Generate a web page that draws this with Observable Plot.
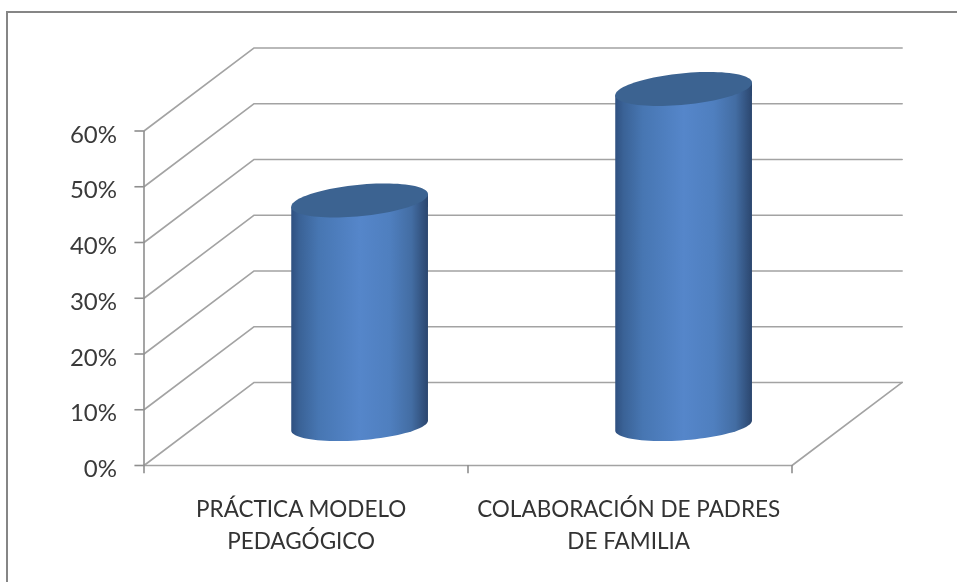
<!DOCTYPE html>
<html>
<head>
<meta charset="utf-8">
<script src="https://cdn.jsdelivr.net/npm/d3@7"></script>
<script src="https://cdn.jsdelivr.net/npm/@observablehq/plot@0.6"></script>
<style>
html,body{margin:0;padding:0;background:#fff;overflow:hidden}
#wrap{position:relative;width:957px;height:582px;filter:blur(0.4px)}
#frame{position:absolute;left:6px;top:11px;right:0;bottom:0;border-left:2px solid #868686;border-top:2px solid #868686}
#chart{position:absolute;left:0;top:0}
svg{display:block}
</style>
</head>
<body>
<div id="wrap"><div id="frame"></div><div id="chart"></div></div>
<script>
const categories = ["PRÁCTICA MODELO\nPEDAGÓGICO", "COLABORACIÓN DE PADRES\nDE FAMILIA"];
const labelPositions = [0.485, 1.496];
const values = [40, 60];
const yTicks = [0, 10, 20, 30, 40, 50, 60];
const xTicks = [0, 1, 2];
const depthX = 0.34;   // depth of the 3D floor, in category widths
const depthY = 14.9;   // depth of the 3D floor, in percentage points
const halfWidth = 0.211;

const gridLines = yTicks.flatMap(v => [
  {s: v, x: 0, y: v},
  {s: v, x: depthX, y: v + depthY},
  {s: v, x: 2 + depthX, y: v + depthY}
]);
const floorEdge = [
  {x: 0, y: 0}, {x: 2, y: 0}, {x: 2 + depthX, y: depthY}
];

function capPath(cx, cy, a, b, k) {
  const pts = d3.range(0, 361, 4).map(t => {
    const r = t * Math.PI / 180;
    return [cx + a * Math.cos(r), cy + b * Math.sin(r) - k * Math.cos(r)];
  });
  return "M" + pts.map(p => p.join(",")).join("L") + "Z";
}
function bodyPath(cx, yTop, yBot, a, b, k) {
  const pts = [[cx - a, yTop + 6.3]];
  d3.range(180, -1, -4).forEach(t => {
    const r = t * Math.PI / 180;
    pts.push([cx + a * Math.cos(r), yBot + b * Math.sin(r) - k * Math.cos(r)]);
  });
  pts.push([cx + a, yTop - 6.3]);
  return "M" + pts.map(p => p.join(",")).join("L") + "Z";
}

function cylinders(index, scales) {
  const {x, y} = scales;
  const g = d3.create("svg:g");
  const grad = g.append("defs").append("linearGradient")
    .attr("id", "cyl").attr("x1", 0).attr("x2", 1).attr("y1", 0).attr("y2", 0);
  [[0, "#2f5080"], [0.06, "#3a6296"], [0.2, "#4776b2"], [0.5, "#5586ca"],
   [0.72, "#4f7fbf"], [0.88, "#436da3"], [1, "#2b466e"]].forEach(([o, c]) =>
    grad.append("stop").attr("offset", o).attr("stop-color", c));
  values.forEach((v, i) => {
    const cx = x(i + 0.5 + depthX / 2 - 0.003);
    const a = x(halfWidth) - x(0);
    const yTop = y(v + depthY / 2);
    const yBot = y(depthY / 2) + 2;
    g.append("path").attr("d", bodyPath(cx, yTop, yBot, a, 14.8, 5)).attr("fill", "url(#cyl)");
    g.append("path").attr("d", capPath(cx, yTop, a, 15.8, 6.3)).attr("fill", "#3c6391");
  });
  return g.node();
}

const plot = Plot.plot({
  width: 957,
  height: 582,
  marginLeft: 143.5,
  marginRight: 165.5,
  marginTop: 130.5,
  marginBottom: 117,
  style: {background: "transparent", fontFamily: "Lato, 'Open Sans', sans-serif"},
  x: {domain: [0, 2], axis: null},
  y: {domain: [0, 60], axis: null},
  marks: [
    Plot.line(gridLines, {x: "x", y: "y", z: "s", stroke: "#a3a3a3", strokeWidth: 1.6}),
    Plot.line(floorEdge, {x: "x", y: "y", stroke: "#a3a3a3", strokeWidth: 1.6}),
    Plot.ruleX([0], {y1: 0, y2: 60, stroke: "#8e8e8e", strokeWidth: 1.6}),
    Plot.ruleX(xTicks, {y1: 0, y2: -1.5, stroke: "#8e8e8e", strokeWidth: 1.6}),
    Plot.ruleY(yTicks, {x1: -0.028, x2: 0, stroke: "#8e8e8e", strokeWidth: 1.6}),
    Plot.axisY({ticks: yTicks, tickFormat: d => d + "%", tickSize: 0, tickPadding: 27, dy: 4, fontSize: 24, color: "#3a3a3a", label: null}),
    cylinders,
    Plot.text(categories, {
      x: (d, i) => labelPositions[i],
      y: () => 0,
      text: d => d,
      dy: 28.5,
      lineAnchor: "top",
      lineHeight: 1.42,
      fontSize: 22.5,
      fill: "#333"
    })
  ]
});
document.getElementById("chart").appendChild(plot);
</script>
</body>
</html>
